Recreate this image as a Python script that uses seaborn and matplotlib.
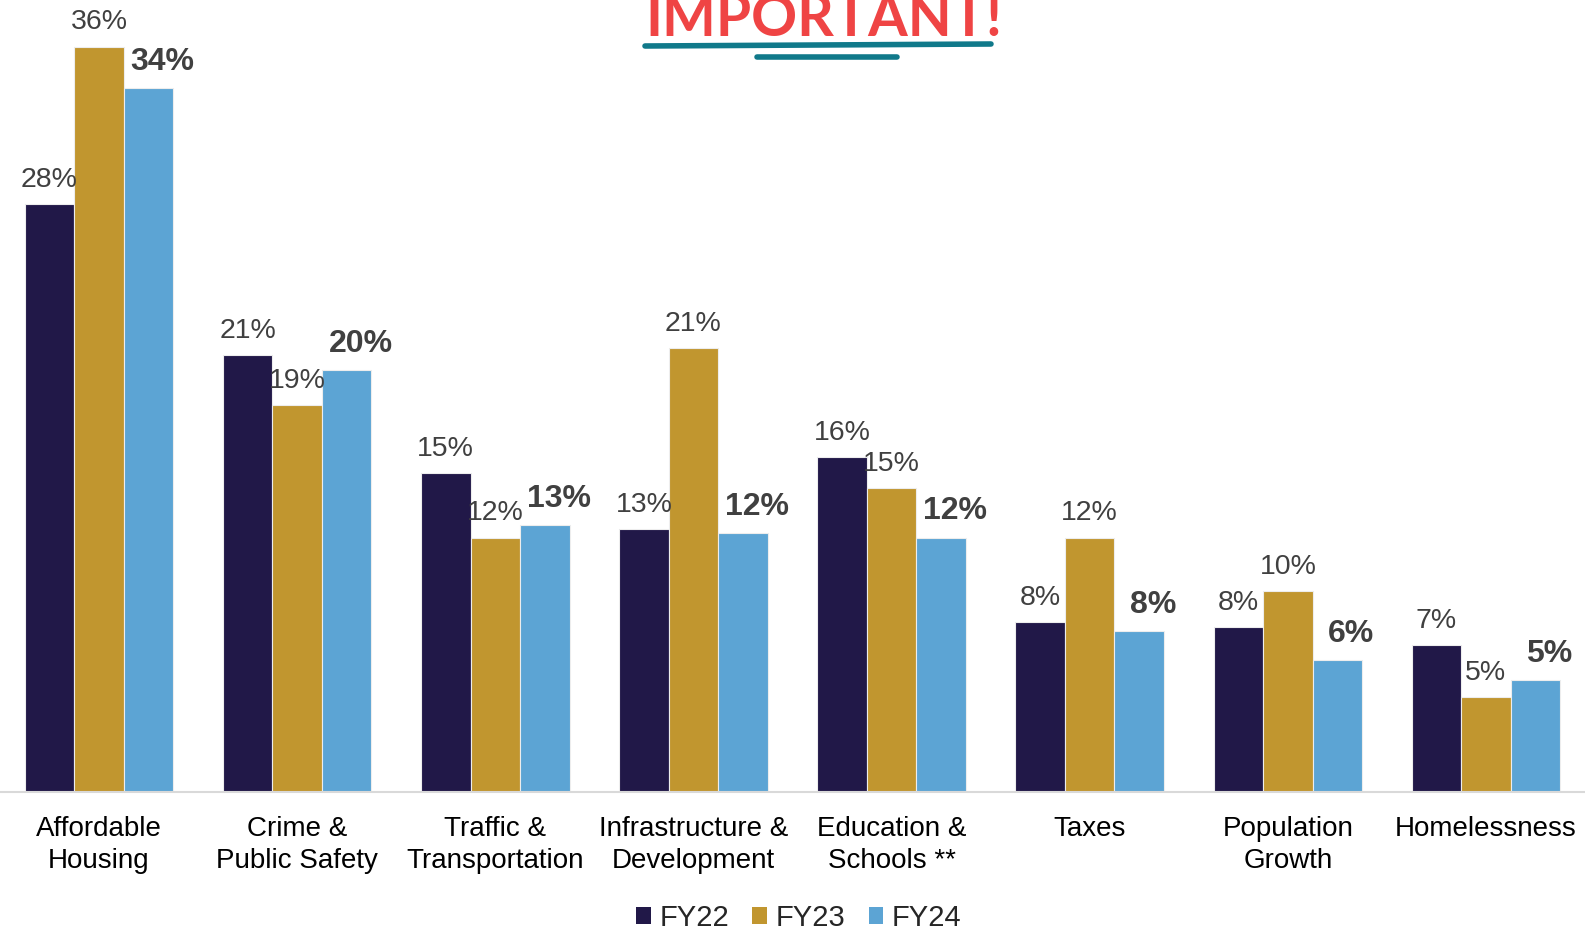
import numpy as np
import pandas as pd
import seaborn as sns
import matplotlib.pyplot as plt
from matplotlib.lines import Line2D
from matplotlib.patches import Patch

sns.set_style("white")
plt.rcParams["font.family"] = ["Liberation Sans", "DejaVu Sans"]

categories = [
    "Affordable\nHousing",
    "Crime &\nPublic Safety",
    "Traffic &\nTransportation",
    "Infrastructure &\nDevelopment",
    "Education &\nSchools **",
    "Taxes",
    "Population\nGrowth",
    "Homelessness",
]
years = ["FY22", "FY23", "FY24"]
fy22 = [28.4, 21.1, 15.4, 12.7, 16.2, 8.2, 8.0, 7.1]
fy23 = [36.0, 18.7, 12.3, 21.45, 14.7, 12.3, 9.7, 4.6]
fy24 = [34.0, 20.4, 12.9, 12.5, 12.3, 7.8, 6.4, 5.4]
colors = ["#211848", "#C1962F", "#5CA4D4"]

df = pd.DataFrame({
    "category": categories * 3,
    "year": np.repeat(years, len(categories)),
    "value": fy22 + fy23 + fy24,
})

fig = plt.figure(figsize=(15.85, 9.3), dpi=100)
ax = fig.add_axes([0, 0.148, 1, 0.852])

sns.barplot(data=df, x="category", y="value", hue="year", palette=colors,
            saturation=1, width=0.75, gap=0, edgecolor="#EDEDED",
            linewidth=0.8, legend=False, ax=ax)

for i, cont in enumerate(ax.containers):
    for bar in cont:
        h = bar.get_height()
        xc = bar.get_x() + bar.get_width() / 2
        if i == 2:
            ax.annotate(f"{h:.0f}%", (xc, h), xytext=(10, 8),
                        textcoords="offset points", ha="center", va="bottom",
                        fontsize=23, fontweight="bold", color="#404040")
        else:
            ax.annotate(f"{h:.0f}%", (xc, h), xytext=(0, 8),
                        textcoords="offset points", ha="center", va="bottom",
                        fontsize=20.5, color="#404040")

ax.set_xlim(-0.5, len(categories) - 0.5)
ax.set_ylim(0, 38.25)
ax.set_xlabel("")
ax.set_ylabel("")
ax.set_yticks([])
for s in ["top", "left", "right"]:
    ax.spines[s].set_visible(False)
ax.spines["bottom"].set_color("#D9D9D9")
ax.spines["bottom"].set_linewidth(1.5)
ax.tick_params(axis="x", length=0, pad=17, labelsize=20, labelcolor="#000000")
for lab in ax.get_xticklabels():
    lab.set_linespacing(1.3)

handles = [Patch(facecolor=c, edgecolor="none") for c in colors]
fig.legend(handles, years, loc="center", bbox_to_anchor=(0.504, 0.013),
           ncol=3, frameon=False, fontsize=21, handlelength=0.5,
           handleheight=0.5, handletextpad=0.3, columnspacing=0.8)

# stamp-like note at the top
fig.text(0.52, 1 - 36 / 930, "IMPORTANT!", ha="center", va="baseline",
         fontsize=41, fontweight="bold", color="#EF4444", family="Lato")
fig.add_artist(Line2D([645 / 1585, 991 / 1585], [1 - 46 / 930, 1 - 44 / 930],
                      color="#10798A", lw=4, solid_capstyle="round"))
fig.add_artist(Line2D([757 / 1585, 897 / 1585], [1 - 57 / 930, 1 - 57 / 930],
                      color="#10798A", lw=4, solid_capstyle="round"))

fig.savefig("out.png", dpi=100)
